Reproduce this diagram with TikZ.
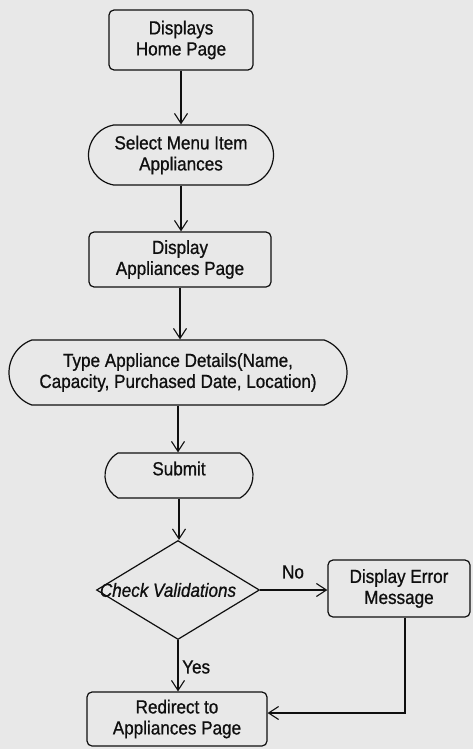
\documentclass[tikz,border=0pt]{standalone}
\usepackage{fontspec}
\setmainfont{Liberation Sans}[FakeStretch=0.9, FakeBold=0.8]
\usetikzlibrary{arrows.meta,shapes.misc,shapes.geometric}
\definecolor{bg}{RGB}{232,232,232}
\definecolor{ink}{RGB}{15,15,15}
\begin{document}
\begin{tikzpicture}[x=1pt,y=-1pt,
  every node/.style={font=\fontsize{19}{21}\selectfont, text=ink},
  proc/.style={draw=ink, line width=1.2pt, rounded corners=5pt, align=center, inner sep=0pt},
  term/.style={draw=ink, line width=1.2pt, rounded rectangle, align=center, inner sep=0pt},
  dec/.style={draw=ink, line width=1.2pt, diamond, inner sep=0pt},
  arr/.style={draw=ink, line width=1.2pt, -{Straight Barb[length=10pt,width=13pt,line width=1.1pt]}},
  conn/.style={draw=ink, line width=1.2pt}
]
\path[fill=bg] (0,0) rectangle (473,749);

\node[proc, minimum width=144pt, minimum height=60pt] (home) at (181,40) {Displays\\Home Page};
\node[term, rounded rectangle arc length=160, minimum width=185pt, minimum height=60pt] (menu) at (181,155) {Select Menu Item\\Appliances};
\node[proc, minimum width=182pt, minimum height=55pt] (disp) at (180,259.5) {Display\\Appliances Page};
\node[term, rounded rectangle arc length=140, minimum width=338pt, minimum height=65pt] (type) at (178,372.5) {Type Appliance Details(Name,\\Capacity, Purchased Date, Location)};
\node[term, rounded rectangle arc length=120, minimum width=148pt, minimum height=45pt,
      label={[yshift=7pt, font=\fontsize{19}{21}\selectfont]center:Submit}] (submit) at (179,475.5) {};
\node[dec, minimum width=163pt, minimum height=99pt,
      label={[xshift=-10pt, font=\fontsize{19}{21}\selectfont\itshape]center:Check Validations}] (check) at (178,590) {};
\node[proc, minimum width=142pt, minimum height=57pt] (err) at (399,588.5) {Display Error\\Message};
\node[proc, minimum width=180pt, minimum height=54pt] (redir) at (177,719) {Redirect to\\Appliances Page};

\node (nolab) at (293,572) {No};
\node[anchor=west, inner sep=0pt] (yeslab) at (182,667) {Yes};

\draw[arr] (home.south) -- (home.south |- menu.north);
\draw[arr] (menu.south) -- (menu.south |- disp.north);
\draw[arr] (disp.south) -- (disp.south |- type.north);
\draw[arr] (type.south) -- (type.south |- submit.north);
\draw[arr] (submit.south) -- (submit.south |- check.north);
\draw[arr] (check.east) -- (check.east -| err.west);
\draw[arr] (check.south) -- (check.south |- redir.north);
\draw[arr] ([xshift=6pt]err.south) |- ([yshift=6pt]redir.east);
\end{tikzpicture}
\end{document}
